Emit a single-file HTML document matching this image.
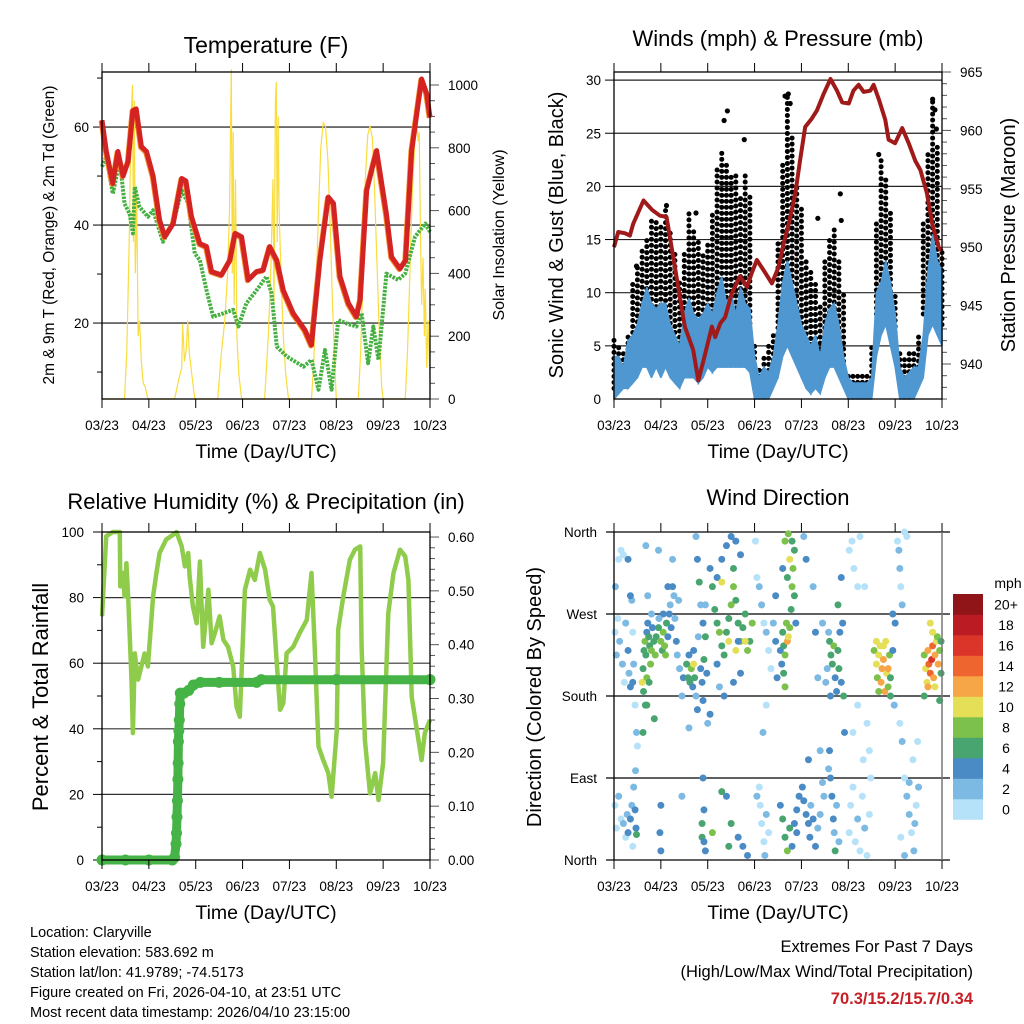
<!DOCTYPE html>
<html><head><meta charset="utf-8"><style>
html,body{margin:0;padding:0;background:#fff;}
svg{display:block;font-family:"Liberation Sans",sans-serif;}
</style></head><body>
<svg id="chart" width="1024" height="1024" viewBox="0 0 1024 1024" xmlns="http://www.w3.org/2000/svg"></svg>
<script>
// ---------- DATA ----------
const dateTicks = ["03/23","04/23","05/23","06/23","07/23","08/23","09/23","10/23"];
const tempRed = [[0,61.4],[0.09,55.2],[0.23,48.5],[0.34,55],[0.45,50],[0.56,53],[0.66,63.4],[0.73,63.7],[0.84,56],[0.95,55],[1.09,50],[1.23,41],[1.34,37.6],[1.52,40.3],[1.70,49.5],[1.79,49],[1.91,41.7],[2.09,36.2],[2.23,35.6],[2.34,30.5],[2.55,29.8],[2.73,32.8],[2.84,38.3],[2.98,37.6],[3.12,28.8],[3.30,30.5],[3.44,30.8],[3.58,35.6],[3.73,32.8],[3.87,26.7],[4.08,22],[4.33,18.6],[4.47,15.5],[4.65,32.8],[4.83,45.7],[4.94,44.4],[5.08,29.5],[5.26,24],[5.43,21.3],[5.51,24.7],[5.65,47.1],[5.86,55.2],[6.07,42.3],[6.18,33.5],[6.36,31.1],[6.48,32.8],[6.61,55.2],[6.82,69.8],[6.93,66.8],[7.0,62]];
const dewGreen = [[0,51.9],[0.09,53.9],[0.23,46.4],[0.38,53.2],[0.48,44.4],[0.59,42.3],[0.66,38.3],[0.70,47.8],[0.80,43.7],[0.98,41.7],[1.09,43],[1.30,36.6],[1.52,40.3],[1.70,47.1],[1.84,44.4],[1.98,34.2],[2.09,32.8],[2.23,26.7],[2.37,21.3],[2.59,22],[2.80,22.7],[2.91,19.3],[3.08,24],[3.30,26.7],[3.51,29.5],[3.62,26],[3.73,15.2],[3.94,13.2],[4.30,11.1],[4.47,12.5],[4.62,6.4],[4.76,14.5],[4.90,6.4],[5.04,20.6],[5.22,19.9],[5.43,19.3],[5.54,22],[5.68,11.8],[5.79,19.3],[5.90,12.5],[6.07,30.1],[6.32,28.8],[6.47,30.1],[6.68,37.6],[6.90,40.3],[7.0,38.6]];
const solar = [[0,0],[0.48,0],[0.53,150],[0.58,500],[0.62,900],[0.65,1000],[0.67,500],[0.69,950],[0.71,400],[0.74,650],[0.77,200],[0.80,250],[0.84,120],[0.88,50],[0.92,40],[0.98,0],[1.55,0],[1.62,50],[1.70,100],[1.72,240],[1.76,120],[1.80,160],[1.83,250],[1.86,150],[1.90,100],[1.98,0],[2.47,0],[2.55,150],[2.62,250],[2.68,400],[2.72,600],[2.76,1050],[2.78,400],[2.80,850],[2.82,300],[2.85,700],[2.88,200],[2.92,80],[2.98,0],[3.47,0],[3.55,200],[3.60,400],[3.65,700],[3.67,300],[3.70,950],[3.72,1010],[3.74,500],[3.76,900],[3.78,600],[3.82,400],[3.87,200],[3.92,80],[3.98,0],[4.47,0],[4.52,120],[4.57,350],[4.62,600],[4.67,800],[4.72,880],[4.77,870],[4.82,760],[4.87,550],[4.92,300],[4.97,100],[5.0,0],[5.47,0],[5.52,150],[5.57,400],[5.62,700],[5.67,840],[5.72,870],[5.77,830],[5.82,650],[5.87,420],[5.92,200],[5.97,40],[6.0,0],[6.47,0],[6.52,150],[6.57,400],[6.62,650],[6.68,830],[6.72,860],[6.75,820],[6.77,850],[6.80,500],[6.82,300],[6.85,450],[6.88,200],[6.90,350],[6.93,100],[6.96,250],[7.0,50]];
const windTimes = [0,0.1,0.2,0.3,0.4,0.5,0.6,0.7,0.8,0.9,1.0,1.1,1.2,1.3,1.4,1.5,1.6,1.7,1.8,1.9,2.0,2.1,2.2,2.3,2.4,2.5,2.6,2.7,2.8,2.9,3.0,3.1,3.2,3.3,3.4,3.5,3.6,3.7,3.8,3.9,4.0,4.1,4.2,4.3,4.4,4.5,4.6,4.7,4.8,4.9,5.0,5.1,5.2,5.3,5.4,5.5,5.6,5.7,5.8,5.9,6.0,6.1,6.2,6.3,6.4,6.5,6.6,6.7,6.8,6.9,7.0];
const windLow  = [0,0.5,1,1,1.5,2,3,3,2,3,2,3,2,1.5,1,2,2,2,1.5,2,3,2.5,3,3,3,3,3,3,3,2.5,0,0,0,0,1,2,4,5,4,3,2,1,0.5,1,0.5,2,3,3,2,1,0,0,0,0,0,0,4,6,7,5,3,0,0,0,0,1,2,6,7,6,5];
const windHigh = [4,4,3,5.5,6,7,9,10.5,9,8.5,9,9,7,6,5,8,9.5,8,7.5,8,9,8,10,11.5,9,10,8,10.5,9,8.5,4,2,3,2.5,4,7,11,13,11,9,7,6,5,6,4,7,8.5,9,7,4,2,1.5,1.5,1.5,1.5,2,10,11,13,11,8,3,2,2.5,3,3,6,12,15.5,13,12];
const gustLow  = [1,2,2,3,4,5,6,7,6,7,6,7,6,4,3,4,5,5,4,5,6,6,8,9,9,9,8,7,8,6,1,1,1,1,2,5,9,12,11,8,6,5,4,4,3,5,7,8,5,3,1,1,1,1,1,2,8,10,11,9,4,2,2,2,2,3,8,10,11,9,7];
const gustHigh = [6,5,4.5,6,11,12.5,14,15,17,17,16.5,18,16,14,11,14,17.5,16,15,14,15,17.5,22,23.5,22,21,21,19,21,19,5,3,4,5,6,15,22,28.8,25,20,18,13,12,11,9,13,15,16,13,10,2.5,2.5,2.5,2.5,2.5,5,17,22.8,21,18,10,4.5,4,4.5,4.5,6,17,23,28,24,14];
const gustOutliers = [[2.35,26.2],[2.42,27.1],[2.78,24.4],[3.65,28.5],[3.72,28.7],[3.76,27.8],[4.35,17],[4.83,19.3],[4.85,16.8],[5.65,23],[6.8,28.2],[6.85,27.2],[6.88,25.4],[1.12,18.2],[1.75,17.5],[0.48,12.5]];
const pressure = [[0,950.0],[0.09,951.3],[0.23,951.2],[0.34,951.0],[0.41,952.0],[0.63,954.0],[0.81,953.2],[0.98,952.7],[1.12,952.6],[1.23,950.0],[1.37,946.6],[1.51,943.2],[1.69,941.2],[1.80,938.6],[1.91,940.3],[2.09,943.2],[2.16,942.3],[2.27,943.5],[2.37,944.0],[2.51,946.0],[2.69,947.5],[2.84,946.6],[2.94,947.8],[3.05,948.9],[3.23,947.8],[3.37,946.9],[3.51,948.3],[3.62,950.3],[3.73,952.0],[3.87,954.6],[3.97,957.4],[4.08,960.3],[4.22,961.0],[4.33,961.7],[4.47,963.1],[4.62,964.4],[4.76,963.4],[4.87,962.4],[5.01,962.3],[5.11,963.4],[5.22,963.9],[5.33,963.3],[5.47,963.4],[5.54,963.9],[5.65,962.7],[5.79,960.9],[5.86,959.2],[6.0,958.9],[6.15,960.2],[6.29,958.9],[6.43,957.4],[6.54,956.6],[6.68,954.6],[6.79,952.0],[6.93,950.0],[7.0,949.7]];
const humidity = [[0,74.3],[0.06,90.5],[0.09,98.7],[0.23,100],[0.38,100],[0.39,83.4],[0.45,87.5],[0.48,80.4],[0.52,90.5],[0.56,80],[0.63,54.9],[0.66,38.7],[0.70,63],[0.77,55],[0.84,59],[0.91,63],[0.98,59],[1.09,80.4],[1.16,87.5],[1.23,93.6],[1.37,97.7],[1.52,99.2],[1.59,100],[1.70,95.6],[1.77,89.5],[1.84,93.6],[1.87,86.5],[1.94,77.3],[2.02,72.2],[2.09,91],[2.16,65],[2.27,82.4],[2.34,66.1],[2.41,69.2],[2.51,74.3],[2.59,67.1],[2.69,65],[2.80,59],[2.87,46.8],[2.94,43.7],[3.05,82.4],[3.16,88.5],[3.26,85.4],[3.37,93.6],[3.48,88.5],[3.58,79.3],[3.65,77.3],[3.73,60],[3.80,45.8],[3.87,47.8],[3.94,63],[4.08,65],[4.22,69.2],[4.37,73.2],[4.47,87.5],[4.54,65],[4.62,34.6],[4.72,30.5],[4.83,26.5],[4.90,19.3],[5.01,39.6],[5.04,70.2],[5.15,80.4],[5.29,91.6],[5.40,94.6],[5.51,95.6],[5.54,65],[5.61,36.6],[5.72,20.3],[5.83,26.5],[5.90,18.3],[6.0,29.5],[6.11,75.3],[6.22,87.5],[6.36,94.6],[6.47,92.6],[6.54,85.4],[6.61,49.8],[6.72,39.6],[6.82,30.5],[6.89,38.7],[7.0,42.7]];
const precip = [[0,0],[0.5,0],[1.0,0],[1.5,0],[1.55,0.005],[1.58,0.03],[1.59,0.05],[1.60,0.08],[1.61,0.11],[1.62,0.15],[1.625,0.18],[1.63,0.22],[1.64,0.24],[1.65,0.26],[1.66,0.29],[1.67,0.31],[1.75,0.31],[1.85,0.315],[1.95,0.325],[2.1,0.33],[2.5,0.33],[3.3,0.33],[3.4,0.335],[5.0,0.335],[7.0,0.335]];
const windObs = [[0.02,250,1],[0.05,225,3],[0.08,265,1],[0.03,300,2],[0.1,330,1],[0.15,340,1],[0.2,335,1],[0.12,240,3],[0.18,215,2],[0.22,195,1],[0.25,260,3],[0.3,230,4],[0.32,205,2],[0.35,190,4],[0.38,285,2],[0.4,250,1],[0.42,215,2],[0.45,170,1],[0.48,140,2],[0.5,125,1],[0.02,60,1],[0.05,35,1],[0.1,70,2],[0.15,45,1],[0.2,40,3],[0.25,25,1],[0.28,50,3],[0.3,30,4],[0.35,45,4],[0.38,60,2],[0.4,15,1],[0.42,80,2],[0.45,55,5],[0.47,35,5],[0.48,28,6],[0.46,98,3],[0.35,290,4],[0.4,195,4],[0.3,330,4],
[0.62,210,6],[0.64,230,7],[0.66,240,8],[0.68,225,7],[0.7,250,5],[0.72,260,4],[0.74,245,7],[0.76,235,7],[0.78,215,8],[0.8,230,8],[0.82,255,5],[0.85,240,6],[0.88,225,8],[0.9,245,7],[0.63,185,7],[0.67,170,6],[0.7,200,9],[0.75,195,6],[0.62,140,6],[0.86,155,7],[0.8,270,3],[0.72,290,2],[0.68,345,2],[0.95,340,2],[0.98,30,4],[0.6,195,10],[0.7,170,6],
[0.95,255,6],[1.0,240,8],[1.03,230,7],[1.05,250,8],[1.08,235,8],[1.1,225,8],[1.12,260,6],[1.15,245,5],[1.18,270,4],[1.2,280,3],[1.22,255,4],[1.25,300,4],[1.28,290,2],[1.3,265,3],[1.33,240,4],[1.35,225,2],[1.4,210,3],[1.45,180,2],[1.48,200,4],[1.15,300,4],[1.25,330,3],[1.0,60,4],[1.0,10,4],[1.45,70,2],[1.38,285,2],[1.05,270,4],[0.96,265,3],
[1.55,215,6],[1.58,200,6],[1.6,225,5],[1.62,195,7],[1.65,210,8],[1.68,190,5],[1.7,230,4],[1.72,200,6],[1.75,180,3],[1.78,165,4],[1.8,245,2],[1.85,210,4],[1.88,195,4],[1.9,175,4],[1.92,220,6],[1.95,245,6],[1.98,205,5],[1.75,355,3],[1.78,330,4],[1.82,305,6],[1.85,280,3],[1.9,260,4],[1.9,90,4],[1.92,55,4],[1.88,40,6],[1.88,25,6],[1.92,20,5],[1.95,10,4],[1.6,145,2],[1.7,215,10],[2.0,150,3],[2.05,160,4],[1.95,280,3],
[2.05,320,5],[2.1,300,6],[2.15,275,7],[2.2,260,6],[2.25,250,8],[2.3,235,7],[2.35,225,7],[2.4,250,7],[2.45,265,7],[2.5,280,8],[2.55,300,8],[2.6,285,6],[2.65,260,7],[2.7,240,8],[2.75,255,7],[2.8,270,6],[2.85,230,8],[2.9,240,7],[2.95,260,8],[2.2,310,4],[2.3,330,5],[2.4,345,4],[2.5,355,4],[2.6,350,5],[2.7,335,4],[2.55,320,6],[2.6,230,10],[2.45,240,10],[2.3,305,10],[2.8,240,11],[2.65,240,4],[2.2,215,4],[2.25,190,3],[2.35,180,4],[2.55,195,4],[2.7,205,4],[2.3,75,6],[2.4,70,5],[2.5,40,6],[2.65,25,5],[2.75,15,4],[2.85,5,4],[2.45,15,6],[2.1,30,8],
[3.02,350,1],[3.05,310,1],[3.1,300,2],[3.15,280,2],[3.2,260,1],[3.25,250,3],[3.3,230,1],[3.35,210,1],[3.4,260,3],[3.45,240,4],[3.48,200,4],[3.1,80,1],[3.12,60,1],[3.15,40,1],[3.2,20,1],[3.22,5,2],[3.25,50,2],[3.3,30,1],[3.05,70,2],[3.18,140,2],[3.25,170,1],[3.45,290,4],
[3.55,230,4],[3.58,215,5],[3.6,250,6],[3.62,235,7],[3.65,225,8],[3.68,260,8],[3.7,240,12],[3.72,245,10],[3.75,255,9],[3.78,275,7],[3.8,300,8],[3.82,320,9],[3.85,340,7],[3.7,310,7],[3.75,330,10],[3.65,350,9],[3.72,358,8],[3.8,350,7],[3.85,290,6],[3.88,260,5],[3.62,205,6],[3.65,190,8],[3.6,320,4],[3.55,60,4],[3.6,45,6],[3.65,25,7],[3.7,10,8],[3.75,35,6],[3.8,15,5],[3.85,40,4],[3.9,55,4],[3.95,70,4],[3.9,30,4],
[4.02,80,4],[4.05,65,5],[4.1,50,4],[4.15,40,4],[4.18,25,5],[4.2,60,3],[4.25,45,4],[4.3,15,5],[4.35,35,3],[4.4,50,3],[4.45,85,3],[4.48,70,2],[4.05,355,3],[4.1,330,4],[4.25,300,3],[4.3,250,4],[4.35,200,3],[4.45,260,2],[4.4,120,3],[4.15,110,4],
[4.6,240,6],[4.63,225,7],[4.66,215,6],[4.69,235,8],[4.72,200,5],[4.75,185,4],[4.78,230,7],[4.8,210,6],[4.82,250,5],[4.85,195,5],[4.88,260,4],[4.9,180,6],[4.62,180,4],[4.55,210,2],[4.58,250,3],[4.52,195,2],[4.58,100,3],[4.6,120,4],[4.62,90,4],[4.65,70,5],[4.68,45,4],[4.7,30,3],[4.72,10,6],[4.75,60,3],[4.8,20,2],[4.92,140,4],[4.85,310,4],[4.78,280,6],
[5.02,30,1],[5.05,60,1],[5.1,80,1],[5.15,20,1],[5.2,45,2],[5.25,10,1],[5.3,70,1],[5.35,35,2],[5.4,5,1],[5.45,50,1],[5.48,90,1],[5.02,340,1],[5.08,350,1],[5.12,320,1],[5.25,355,1],[5.35,300,1],[5.1,140,1],[5.2,170,1],[5.4,150,1],[5.45,120,1],[5.2,300,1],[5.32,110,1],
[5.55,230,9],[5.6,215,10],[5.62,200,8],[5.65,225,11],[5.68,235,10],[5.7,195,12],[5.72,210,13],[5.75,220,12],[5.78,185,13],[5.8,240,11],[5.82,205,10],[5.85,190,9],[5.88,225,8],[5.9,200,6],[5.6,240,10],[5.65,185,8],[5.75,235,10],[5.85,210,12],[5.9,180,6],[5.95,270,4],[6.0,260,4],[5.95,230,4],[5.98,170,3],
[6.05,350,1],[6.1,320,2],[6.12,300,1],[6.15,280,3],[6.08,340,2],[6.2,360,1],[6.25,355,1],[6.1,150,1],[6.15,130,2],[6.2,90,1],[6.25,70,2],[6.3,50,2],[6.35,30,1],[6.4,10,2],[6.45,60,1],[6.5,80,2],[6.3,85,3],[6.38,110,1],[6.42,40,3],[6.12,25,1],[6.2,5,2],[6.48,130,1],
[6.62,225,8],[6.65,210,10],[6.68,195,11],[6.7,230,12],[6.72,215,14],[6.75,205,15],[6.78,220,16],[6.8,235,14],[6.82,200,13],[6.85,225,12],[6.88,240,10],[6.9,245,8],[6.92,215,12],[6.95,230,8],[6.98,205,7],[6.7,190,12],[6.8,250,11],[6.75,260,10],[6.62,180,6],[6.85,190,10],[6.98,240,6],[6.95,175,6]];
const speedLabels = ["0","2","4","6","8","10","12","14","16","18","20+"];
const speedColors = ["#b5e2f8","#7cb9e3","#4a8bc6","#48a570","#7cc14b","#e5df57","#f6a646","#ee6530","#db3428","#bb1c24","#8f1519"];

// ---------- HELPERS ----------
const svg = document.getElementById('chart');
const NS = 'http://www.w3.org/2000/svg';
function el(tag, attrs, parent){const e=document.createElementNS(NS,tag);for(const k in attrs)e.setAttribute(k,attrs[k]);(parent||svg).appendChild(e);return e;}
function txt(s, attrs, parent){const e=el('text',attrs,parent);e.textContent=s;return e;}
const PW=328, DAYS=7;
function xAt(x0,t){return x0+t/DAYS*PW;}
function pathOf(pts){return pts.map((p,i)=>(i?'L':'M')+p[0].toFixed(1)+' '+p[1].toFixed(1)).join('');}

function timeAxis(g,x0,yTop,yBot){
  dateTicks.forEach((lab,i)=>{
    const x=xAt(x0,i);
    el('line',{x1:x,y1:yBot,x2:x,y2:yBot+9,stroke:'#000','stroke-width':1},g);
    el('line',{x1:x,y1:yTop,x2:x,y2:yTop-9,stroke:'#000','stroke-width':1},g);
    const t=txt(lab,{x:x,y:yBot+31,'text-anchor':'middle','font-size':13.5},g);
    
    
  });
  const tt=txt('Time (Day/UTC)',{x:x0+PW/2,y:yBot+59,'text-anchor':'middle','font-size':19.5},g);
  
  
}

// ---------- PANEL A ----------
(function(){
  const g=el('g',{});
  
  
  const x0=102,yT=72,yB=399;
  const yTemp=v=>399-(v-4.5)*4.9;
  const ySol=v=>399-v*0.314;
  [20,40,60].forEach(v=>{el('line',{x1:x0,y1:yTemp(v),x2:x0+PW,y2:yTemp(v),stroke:'#555','stroke-width':1.6},g);});
  [10,20,30,40,50,60,70].forEach(v=>{const m=v%20===0;el('line',{x1:x0,y1:yTemp(v),x2:x0-(m?9:5),y2:yTemp(v),stroke:'#000'},g);
    if(m) txt(String(v),{x:x0-13,y:yTemp(v)+5,'text-anchor':'end','font-size':13.5},g);});
  for(let v=0;v<=1000;v+=50){const m=v%200===0;el('line',{x1:x0+PW,y1:ySol(v),x2:x0+PW+(m?9:5),y2:ySol(v),stroke:'#555'},g);
    if(m) txt(String(v),{x:x0+PW+18,y:ySol(v)+5,'font-size':13.5},g);}
  const sol=el('path',{d:pathOf(solar.map(p=>[xAt(x0,p[0]),ySol(p[1])])),fill:'none',stroke:'#f9dc3e','stroke-width':1.2},g);
  
  
  const dg=el('path',{d:pathOf(dewGreen.map(p=>[xAt(x0,p[0]),yTemp(p[1])])),fill:'none',stroke:'#45b041','stroke-width':4,'stroke-dasharray':'2.5 1.2','stroke-linejoin':'round'},g);
  
  
  const or=el('path',{d:pathOf(tempRed.map(p=>[xAt(x0,p[0])-0.8,yTemp(p[1])+0.8])),fill:'none',stroke:'#f58a2a','stroke-width':5,'stroke-linejoin':'round'},g);
  
  
  const rd=el('path',{d:pathOf(tempRed.map(p=>[xAt(x0,p[0]),yTemp(p[1])])),fill:'none',stroke:'#d42323','stroke-width':5,'stroke-linejoin':'round'},g);
  
  
  el('rect',{x:x0,y:yT,width:PW,height:yB-yT,fill:'none',stroke:'#000','stroke-width':1.3},g);
  timeAxis(g,x0,yT,yB);
  const t=txt('Temperature (F)',{x:266,y:53,'text-anchor':'middle','font-size':23},g);
   
  const yl=txt('2m & 9m T (Red, Orange) & 2m Td (Green)',{x:0,y:0,'text-anchor':'middle','font-size':15.5,transform:'translate(54,235) rotate(-90)'},g);
   
  const yr=txt('Solar Insolation (Yellow)',{x:0,y:0,'text-anchor':'middle','font-size':16,transform:'translate(504,235) rotate(-90)'},g);
   
})();

// ---------- PANEL B ----------
(function(){
  const g=el('g',{});
  
  
  const x0=614,yT=72,yB=399;
  const yW=v=>399-v*10.63;
  const yP=p=>364-(p-940)*11.68;
  [5,10,15,20,25,30].forEach(v=>{el('line',{x1:x0,y1:yW(v),x2:x0+PW,y2:yW(v),stroke:'#222','stroke-width':1.2},g);
    el('line',{x1:x0,y1:yW(v),x2:x0-9,y2:yW(v),stroke:'#000'},g);});
  [0,5,10,15,20,25,30].forEach(v=>txt(String(v),{x:x0-13,y:yW(v)+5,'text-anchor':'end','font-size':13.5},g));
  for(let p=937;p<=965;p++){const m=p%5===0;el('line',{x1:x0+PW,y1:yP(p),x2:x0+PW+(m?9:5),y2:yP(p),stroke:'#555'},g);
    if(m) txt(String(p),{x:x0+PW+18,y:yP(p)+5,'font-size':13.5},g);}
  windTimes.forEach((t,i)=>{
    const c=el('line',{x1:xAt(x0,t),y1:yW(gustLow[i]),x2:xAt(x0,t),y2:yW(gustHigh[i]),stroke:'#000','stroke-width':5,'stroke-linecap':'round','stroke-dasharray':'0 6'},g);
    
    
  });
  gustOutliers.forEach(p=>{
    const c=el('circle',{cx:xAt(x0,p[0]),cy:yW(p[1]),r:2.6,fill:'#000'},g);
    
    
  });
  windTimes.forEach((t,i)=>{
    if(i===windTimes.length-1) return;
    const t2=windTimes[i+1];
    const poly=[[xAt(x0,t),yW(windHigh[i])],[xAt(x0,t2),yW(windHigh[i+1])],[xAt(x0,t2),yW(windLow[i+1])],[xAt(x0,t),yW(windLow[i])]];
    const b=el('polygon',{points:poly.map(p=>p.join(',')).join(' '),fill:'#4f97d1',stroke:'#4f97d1','stroke-width':1.5},g);
    
    
  });
  const pr=el('path',{d:pathOf(pressure.map(p=>[xAt(x0,p[0]),yP(p[1])])),fill:'none',stroke:'#a11a1a','stroke-width':4,'stroke-linejoin':'round'},g);
  
  
  el('rect',{x:x0,y:yT,width:PW,height:yB-yT,fill:'none',stroke:'#000','stroke-width':1.3},g);
  timeAxis(g,x0,yT,yB);
  const t=txt('Winds (mph) & Pressure (mb)',{x:778,y:46,'text-anchor':'middle','font-size':22},g);
   
  const yl=txt('Sonic Wind & Gust (Blue, Black)',{x:0,y:0,'text-anchor':'middle','font-size':20,transform:'translate(563,235) rotate(-90)'},g);
   
  const yr=txt('Station Pressure (Maroon)',{x:0,y:0,'text-anchor':'middle','font-size':20,transform:'translate(1015,235) rotate(-90)'},g);
   
})();

// ---------- PANEL C ----------
(function(){
  const g=el('g',{});
  
  
  const x0=102,yT=532,yB=860;
  const yR=v=>860-v*3.28;
  const yPr=v=>860-v*538.3;
  [20,40,60,80].forEach(v=>el('line',{x1:x0,y1:yR(v),x2:x0+PW,y2:yR(v),stroke:'#333','stroke-width':1.2},g));
  for(let v=0;v<=100;v+=10){const m=v%20===0;el('line',{x1:x0,y1:yR(v),x2:x0-(m?9:5),y2:yR(v),stroke:'#000'},g);
    if(m) txt(String(v),{x:x0-18,y:yR(v)+5,'text-anchor':'end','font-size':13.5},g);}
  for(let k=0;k<=30;k++){const v=k*0.02;const m=k%5===0;el('line',{x1:x0+PW,y1:yPr(v),x2:x0+PW+(m?9:5),y2:yPr(v),stroke:'#555'},g);
    if(m) txt(v.toFixed(2),{x:x0+PW+18,y:yPr(v)+5,'font-size':13.5},g);}
  const rh=el('path',{d:pathOf(humidity.map(p=>[xAt(x0,p[0]),yR(p[1])])),fill:'none',stroke:'#8fcc4c','stroke-width':4.5,'stroke-linejoin':'round'},g);
  
  
  const pl=el('path',{d:pathOf(precip.map(p=>[xAt(x0,p[0]),yPr(p[1])])),fill:'none',stroke:'#45b346','stroke-width':9,'stroke-linejoin':'round','stroke-linecap':'round'},g);
  
  
  precip.forEach(p=>{const c=el('circle',{cx:xAt(x0,p[0]),cy:yPr(p[1]),r:5.5,fill:'#45b346'},g);
    
    });
  el('rect',{x:x0,y:yT,width:PW,height:yB-yT,fill:'none',stroke:'#000','stroke-width':1.3},g);
  timeAxis(g,x0,yT,yB);
  const t=txt('Relative Humidity (%) & Precipitation (in)',{x:266,y:509,'text-anchor':'middle','font-size':22},g);
   
  const yl=txt('Percent & Total Rainfall',{x:0,y:0,'text-anchor':'middle','font-size':22,transform:'translate(48,697) rotate(-90)'},g);
   
})();

// ---------- PANEL D ----------
(function(){
  const g=el('g',{});
  
  
  const x0=614,yT=532,yB=860;
  const yD=d=>860-d/360*328;
  const dirLabels=['North','East','South','West','North'];
  dirLabels.forEach((lab,i)=>{const y=yD(i*90);
    el('line',{x1:x0-8,y1:y,x2:950,y2:y,stroke:'#000','stroke-width':1.2},g);
    const l=txt(lab,{x:x0-17,y:y+5,'text-anchor':'end','font-size':13.5},g);
    
    });
  function colorOf(s){let i=Math.floor(s/2);if(i>10)i=10;return speedColors[i];}
  windObs.forEach(o=>{
    const c=el('circle',{cx:xAt(x0,o[0]),cy:yD(o[1]),r:3.5,fill:colorOf(o[2])},g);
    
    
  });
  el('line',{x1:x0,y1:yT,x2:x0,y2:yB,stroke:'#000','stroke-width':1.3},g);
  el('line',{x1:x0+PW,y1:yT,x2:x0+PW,y2:yB,stroke:'#777','stroke-width':1.5},g);
  timeAxis(g,x0,yT,yB);
  const cb=el('g',{},g);
  
  
  const bx=953,bTop=594,bH=20.5;
  speedColors.forEach((c,i)=>{const y=bTop+(10-i)*bH;
    el('rect',{x:bx,y:y,width:30,height:bH+0.3,fill:c},cb);
    const l=txt(speedLabels[i],{x:1006,y:y+bH/2+5,'text-anchor':'middle','font-size':14},cb);
    
    });
  txt('mph',{x:1008,y:588,'text-anchor':'middle','font-size':14},cb);
  const t=txt('Wind Direction',{x:778,y:505,'text-anchor':'middle','font-size':22},g);
   
  const yl=txt('Direction (Colored By Speed)',{x:0,y:0,'text-anchor':'middle','font-size':20,transform:'translate(541,697) rotate(-90)'},g);
   
})();

// ---------- FOOTER ----------
(function(){
  const g=el('g',{});
  
  
  const lines=['Location: Claryville','Station elevation: 583.692 m','Station lat/lon: 41.9789; -74.5173','Figure created on Fri, 2026-04-10, at 23:51 UTC','Most recent data timestamp: 2026/04/10 23:15:00'];
  lines.forEach((s,i)=>txt(s,{x:30,y:937+i*20,'font-size':14.5},g));
  const r=el('g',{});
  
  
  txt('Extremes For Past 7 Days',{x:973,y:952,'text-anchor':'end','font-size':16.5},r);
  txt('(High/Low/Max Wind/Total Precipitation)',{x:973,y:977,'text-anchor':'end','font-size':16.5},r);
  txt('70.3/15.2/15.7/0.34',{x:973,y:1004,'text-anchor':'end','font-size':16.5,'font-weight':'bold',fill:'#c62026'},r);
})();
</script>
</body></html>
